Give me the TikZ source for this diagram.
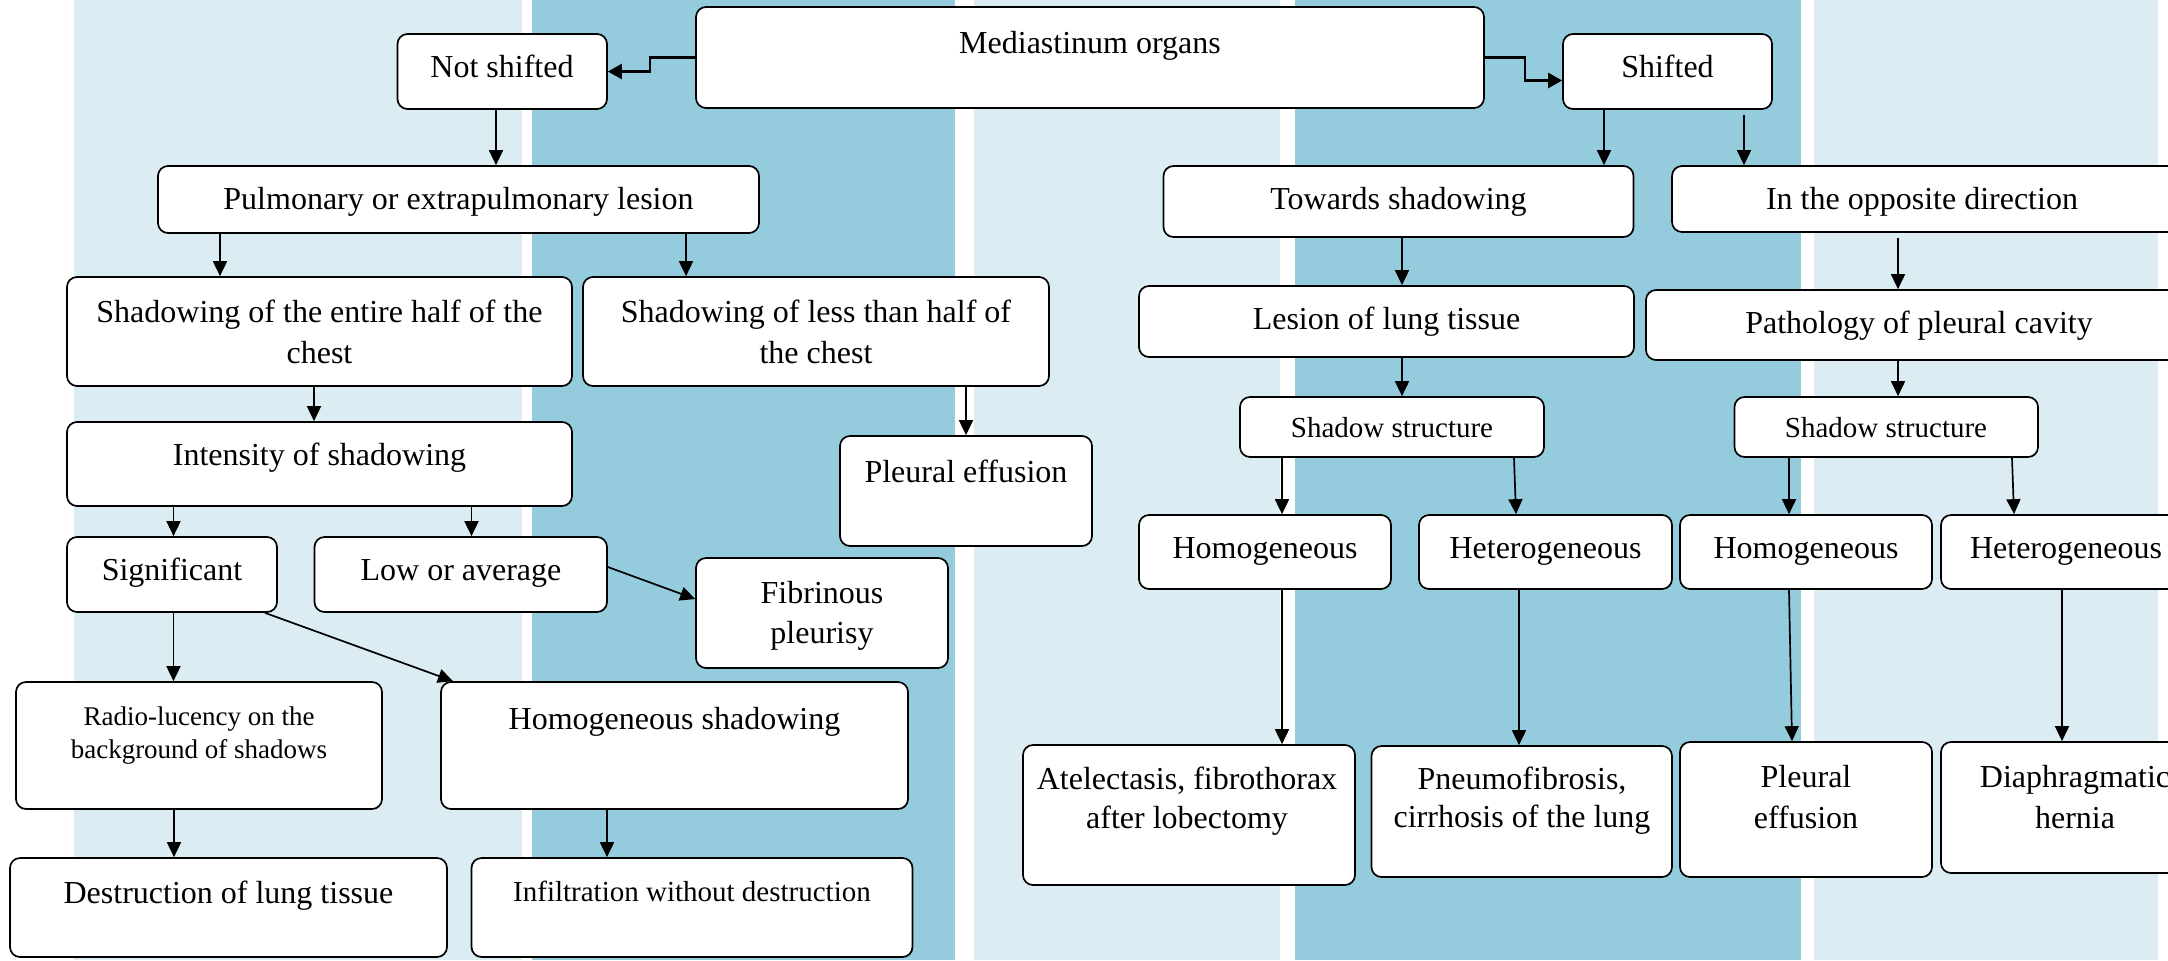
\documentclass[tikz,border=0pt]{standalone}
\usepackage{fontspec}
\setmainfont{Liberation Serif}
\usetikzlibrary{arrows.meta,fit,calc}

\definecolor{bandlight}{RGB}{219,237,243}
\definecolor{banddark}{RGB}{148,203,221}

% a rounded box spanning two corner points
\newcommand{\flowbox}[5]{\node[box, fit={(#2,#3) (#4,#5)}] (#1) {};}

\tikzset{
  box/.style={draw=black, line width=0.85pt, fill=white, rounded corners=5pt, inner sep=0pt},
  arr/.style={line width=0.85pt, -{Triangle[length=7.5pt,width=7pt]}},
  elbow/.style={line width=1.3pt, -{Triangle[length=7pt,width=7.5pt]}},
  lab/.style={font=\fontsize{16}{19}\selectfont, anchor=base, inner sep=0pt},
  labm/.style={font=\fontsize{14.5}{17}\selectfont, anchor=base, inner sep=0pt},
  labs/.style={font=\fontsize{13.5}{16}\selectfont, anchor=base, inner sep=0pt},
}

\begin{document}
\begin{tikzpicture}[x=0.5pt, y=-0.5pt]
\useasboundingbox (0,0) rectangle (2168,960);
\fill[white] (0,0) rectangle (2168,960);

% vertical background bands
\fill[bandlight] (74,0) rectangle (522,960);
\fill[banddark] (532,0) rectangle (955,960);
\fill[bandlight] (974,0) rectangle (1280,960);
\fill[banddark] (1295,0) rectangle (1801,960);
\fill[bandlight] (1814,0) rectangle (2158,960);

% boxes
\flowbox{med}{696}{7}{1484}{108}
\flowbox{ns}{397.5}{34}{607}{109}
\flowbox{sh}{1563}{34}{1772}{109}
\flowbox{pul}{158}{166}{759}{233}
\flowbox{tow}{1163.5}{166}{1633.5}{237}
\flowbox{opp}{1672}{166}{2190}{232}
\flowbox{she}{67}{277}{572}{386}
\flowbox{shl}{583}{277}{1049}{386}
\flowbox{les}{1139}{286}{1634}{357}
\flowbox{pat}{1646}{290}{2200}{360}
\flowbox{int}{67}{422}{572}{506}
\flowbox{pleA}{840}{436}{1092}{546}
\flowbox{ssA}{1240}{397}{1544}{457}
\flowbox{ssB}{1734.5}{397}{2038}{457}
\flowbox{sig}{67}{537}{277}{612}
\flowbox{low}{314.5}{537}{607}{612}
\flowbox{fib}{696}{558}{948}{668}
\flowbox{hoA}{1139}{515}{1391}{589}
\flowbox{heA}{1419}{515}{1672}{589}
\flowbox{hoB}{1680}{515}{1932}{589}
\flowbox{heB}{1941}{515}{2200}{589}
\flowbox{rad}{16}{682}{382}{809}
\flowbox{hsh}{441}{682}{908}{809}
\flowbox{ate}{1023}{745}{1355}{885}
\flowbox{pne}{1371.5}{746}{1672}{877}
\flowbox{pleB}{1680}{742}{1932}{877}
\flowbox{dia}{1941}{742}{2210}{873}
\flowbox{des}{10}{858}{447}{957}
\flowbox{inf}{471.5}{858}{912.5}{957}

% labels
\node[lab] (medT) at (1090,53) {Mediastinum organs};
\node[lab] (nsT) at (502,77) {Not shifted};
\node[lab] (shT) at (1667.5,77) {Shifted};
\node[lab] (pulT) at (458.5,209) {Pulmonary or extrapulmonary lesion};
\node[lab] (towT) at (1398.5,209) {Towards shadowing};
\node[lab] (oppT) at (1922,209) {In the opposite direction};
\node[lab] (sheT1) at (319.5,322) {Shadowing of the entire half of the};
\node[lab] (sheT2) at (319.5,363) {chest};
\node[lab] (shlT1) at (816,322) {Shadowing of less than half of};
\node[lab] (shlT2) at (816,363) {the chest};
\node[lab] (lesT) at (1386.5,329) {Lesion of lung tissue};
\node[lab] (patT) at (1919,333) {Pathology of pleural cavity};
\node[lab] (intT) at (319.5,465) {Intensity of shadowing};
\node[lab] (pleAT) at (966,482) {Pleural effusion};
\node[labm] (ssAT) at (1392,437) {Shadow structure};
\node[labm] (ssBT) at (1886,437) {Shadow structure};
\node[lab] (sigT) at (172,580) {Significant};
\node[lab] (lowT) at (461,580) {Low or average};
\node[lab] (fibT1) at (822,603) {Fibrinous};
\node[lab] (fibT2) at (822,643) {pleurisy};
\node[lab] (hoAT) at (1265,558) {Homogeneous};
\node[lab] (heAT) at (1545.5,558) {Heterogeneous};
\node[lab] (hoBT) at (1806,558) {Homogeneous};
\node[lab] (heBT) at (2066,558) {Heterogeneous};
\node[labs] (radT1) at (199,725) {Radio-lucency on the};
\node[labs] (radT2) at (199,758) {background of shadows};
\node[lab] (hshT) at (674.5,729) {Homogeneous shadowing};
\node[lab] (ateT1) at (1187,789) {Atelectasis, fibrothorax};
\node[lab] (ateT2) at (1187,828) {after lobectomy};
\node[lab] (pneT1) at (1522,789) {Pneumofibrosis,};
\node[lab] (pneT2) at (1522,827) {cirrhosis of the lung};
\node[lab] (pleBT1) at (1806,787) {Pleural};
\node[lab] (pleBT2) at (1806,828) {effusion};
\node[lab] (diaT1) at (2075,787) {Diaphragmatic};
\node[lab] (diaT2) at (2075,828) {hernia};
\node[lab] (desT) at (228.5,903) {Destruction of lung tissue};
\node[labm] (infT) at (692,901) {Infiltration without destruction};

% connectors from the top box
\draw[elbow] (med.west) -- ++(-45,0) |- (ns.east);
\draw[elbow] (med.east) -- ++(40,0) |- ($(sh.west)+(0,9)$);

% left branch
\draw[arr] (ns.south -| 496,0) -- (pul.north -| 496,0);
\draw[arr] (pul.south -| 220,0) -- (she.north -| 220,0);
\draw[arr] (pul.south -| 686,0) -- (shl.north -| 686,0);
\draw[arr] (she.south -| 314,0) -- (int.north -| 314,0);
\draw[arr] (shl.south -| 966,0) -- (pleA.north -| 966,0);
\draw[arr] (int.south -| 173.5,0) -- (sig.north -| 173.5,0);
\draw[arr] (int.south -| 471.5,0) -- (low.north -| 471.5,0);
\draw[arr] (low.east |- 0,567) -- (fib.west |- 0,599);
\draw[arr] (sig.south -| 173.5,0) -- (rad.north -| 173.5,0);
\draw[arr] (sig.south -| 265,0) -- (hsh.north -| 453,0);
\draw[arr] (rad.south -| 174,0) -- (des.north -| 174,0);
\draw[arr] (hsh.south -| 607,0) -- (inf.north -| 607,0);

% right branch
\draw[arr] (sh.south -| 1604,0) -- (tow.north -| 1604,0);
\draw[arr] ($(sh.south -| 1744,0)+(0,5)$) -- (opp.north -| 1744,0);
\draw[arr] (tow.south -| 1402,0) -- (les.north -| 1402,0);
\draw[arr] ($(opp.south -| 1898,0)+(0,5)$) -- (pat.north -| 1898,0);
\draw[arr] (les.south -| 1402,0) -- (ssA.north -| 1402,0);
\draw[arr] (pat.south -| 1898,0) -- (ssB.north -| 1898,0);
\draw[arr] (ssA.south -| 1282,0) -- (hoA.north -| 1282,0);
\draw[arr] (ssA.south -| 1514,0) -- (heA.north -| 1516,0);
\draw[arr] (ssB.south -| 1789,0) -- (hoB.north -| 1789,0);
\draw[arr] (ssB.south -| 2012,0) -- (heB.north -| 2014,0);
\draw[arr] (hoA.south -| 1282,0) -- (ate.north -| 1282,0);
\draw[arr] (heA.south -| 1519,0) -- (pne.north -| 1519,0);
\draw[arr] (hoB.south -| 1789,0) -- (pleB.north -| 1792,0);
\draw[arr] (heB.south -| 2062,0) -- (dia.north -| 2062,0);
\end{tikzpicture}
\end{document}
